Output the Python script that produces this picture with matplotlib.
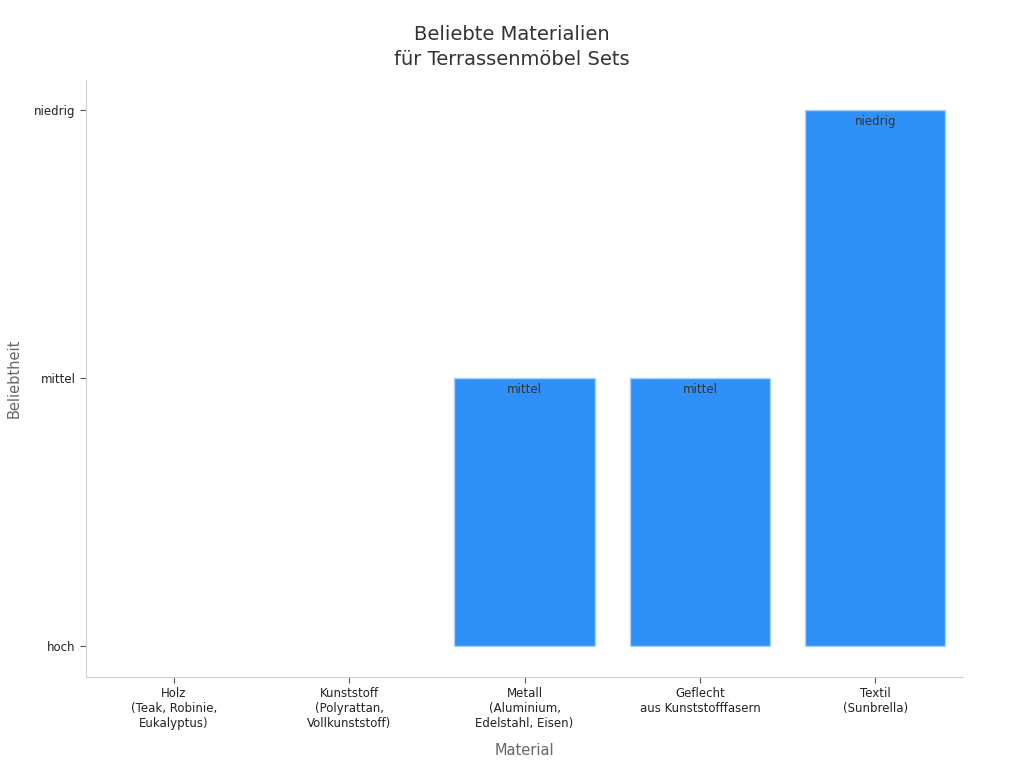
import matplotlib
matplotlib.use("Agg")
import matplotlib.pyplot as plt

categories = ["Holz\n(Teak, Robinie,\nEukalyptus)", "Kunststoff\n(Polyrattan,\nVollkunststoff)",
              "Metall\n(Aluminium,\nEdelstahl, Eisen)", "Geflecht\naus Kunststofffasern", "Textil\n(Sunbrella)"]
levels = ["hoch", "mittel", "niedrig"]
values = ["hoch", "hoch", "mittel", "mittel", "niedrig"]

fig = plt.figure(figsize=(10.24, 7.68), dpi=100)
ax = fig.add_axes([86/1024, 1-677/768, (963-86)/1024, (677-80)/768])

y = [levels.index(v) for v in values]
x = list(range(len(categories)))
lws = [1 if yi > 0 else 0 for yi in y]
bars = ax.bar(x, y, width=0.8, color="#2f91f8", edgecolor="#a9d3ff", linewidth=lws)
for xi, yi, v in zip(x, y, values):
    if yi > 0:
        ax.text(xi, yi - 0.02, v, ha="center", va="top", fontsize=8.5, color="#333333")

ax.set_xlim(-0.5, 4.5)
ax.set_ylim(-0.115, 2.112)
ax.set_yticks(range(len(levels)))
ax.set_yticklabels(levels, fontsize=8.5, color="#222222")
ax.set_xticks(x)
ax.set_xticklabels(categories, fontsize=8.5, color="#222222")
for s in ["top", "right"]:
    ax.spines[s].set_visible(False)
for s in ["left", "bottom"]:
    ax.spines[s].set_color("#d0d0d0")
ax.tick_params(colors="#555555", length=4, width=0.8, labelcolor="#222222")
ax.set_xlabel("Material", fontsize=10.5, color="#666666", labelpad=9)
ax.set_ylabel("Beliebtheit", fontsize=10.5, color="#666666", labelpad=9)
fig.suptitle("Beliebte Materialien\nfür Terrassenmöbel Sets", fontsize=14, color="#333333",
             y=0.968, linespacing=1.45)
fig.savefig("out.png", dpi=100)
